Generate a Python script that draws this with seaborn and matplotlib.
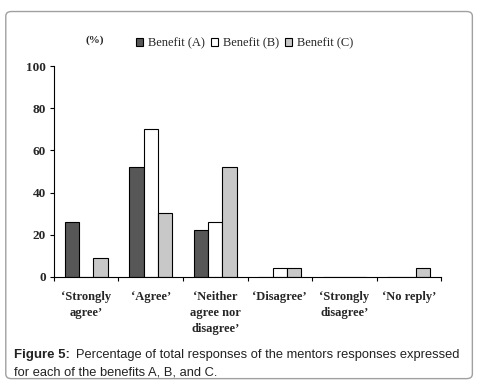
import numpy as np
import pandas as pd
import matplotlib
matplotlib.use('Agg')
import matplotlib.pyplot as plt
import seaborn as sns
from matplotlib.patches import FancyBboxPatch

# data
categories = ['\u2018Strongly\nagree\u2019', '\u2018Agree\u2019', '\u2018Neither\nagree nor\ndisagree\u2019',
              '\u2018Disagree\u2019', '\u2018Strongly\ndisagree\u2019', '\u2018No reply\u2019']
benefit_a = [26, 52, 22, 0, 0, 0]
benefit_b = [0, 70, 26, 4, 0, 0]
benefit_c = [9, 30.5, 52, 4, 0, 4]
series_names = ['Benefit (A)', 'Benefit (B)', 'Benefit (C)']
colors = ['#575757', '#ffffff', '#c8c8c8']

df = pd.DataFrame({
    'category': categories * 3,
    'series': [series_names[0]] * 6 + [series_names[1]] * 6 + [series_names[2]] * 6,
    'value': benefit_a + benefit_b + benefit_c,
})

sns.set_style('white')
plt.rcParams['font.family'] = ['Liberation Serif', 'DejaVu Serif']

fig = plt.figure(figsize=(4.82, 3.84), dpi=100)
ax = fig.add_axes([0.112, 0.279, 0.803, 0.549])

sns.barplot(data=df, x='category', y='value', hue='series', palette=colors,
            width=0.67, edgecolor='black', linewidth=0.8, ax=ax, legend=True)

ax.set_xlim(-0.5, 5.5)
ax.set_ylim(0, 100)
ax.set_yticks([0, 20, 40, 60, 80, 100])
ax.set_xlabel('')
ax.set_ylabel('')
for s in ['top', 'right']:
    ax.spines[s].set_visible(False)
for s in ['left', 'bottom']:
    ax.spines[s].set_color('black')
    ax.spines[s].set_linewidth(0.8)

ax.tick_params(axis='y', direction='out', length=3, width=0.8, color='black', labelsize=9.5, pad=3, left=True)
ax.tick_params(axis='x', which='major', length=0, labelsize=9, pad=10)
ax.set_xticks(np.arange(-0.5, 6, 1), minor=True)
ax.tick_params(axis='x', which='minor', direction='out', length=3, width=0.8, color='black', bottom=True)
for lab in ax.get_yticklabels() + ax.get_xticklabels():
    lab.set_fontweight('bold')
for lab in ax.get_xticklabels():
    lab.set_linespacing(1.45)
    lab.set_verticalalignment('top')

leg = ax.legend(loc='lower center', bbox_to_anchor=(0.492, 1.055), ncol=3, frameon=False,
                fontsize=9, handlelength=0.6, handleheight=0.6, handletextpad=0.35,
                columnspacing=0.5, borderaxespad=0)
for h in leg.legend_handles:
    h.set_edgecolor('black')
    h.set_linewidth(0.8)

fig.text(0.197, 0.895, '(%)', fontsize=8, fontweight='bold', ha='center', va='center')

# caption
cap_font = ['Liberation Sans', 'DejaVu Sans']
fig.text(0.029, 0.075, 'Figure 5:', fontsize=9.5, fontweight='bold', color='#222222',
         family=cap_font, va='center')
fig.text(0.158, 0.075, 'Percentage of total responses of the mentors responses expressed',
         fontsize=9.3, color='#222222', family=cap_font, va='center')
fig.text(0.029, 0.031, 'for each of the benefits A, B, and C.', fontsize=9.3, color='#222222',
         family=cap_font, va='center')

box = FancyBboxPatch((0.012, 0.014), 0.968, 0.956, boxstyle='round,pad=0,rounding_size=0.012',
                     transform=fig.transFigure, facecolor='none', edgecolor='#a0a0a0', linewidth=1.0)
fig.patches.append(box)

fig.savefig('out.png', dpi=100)
